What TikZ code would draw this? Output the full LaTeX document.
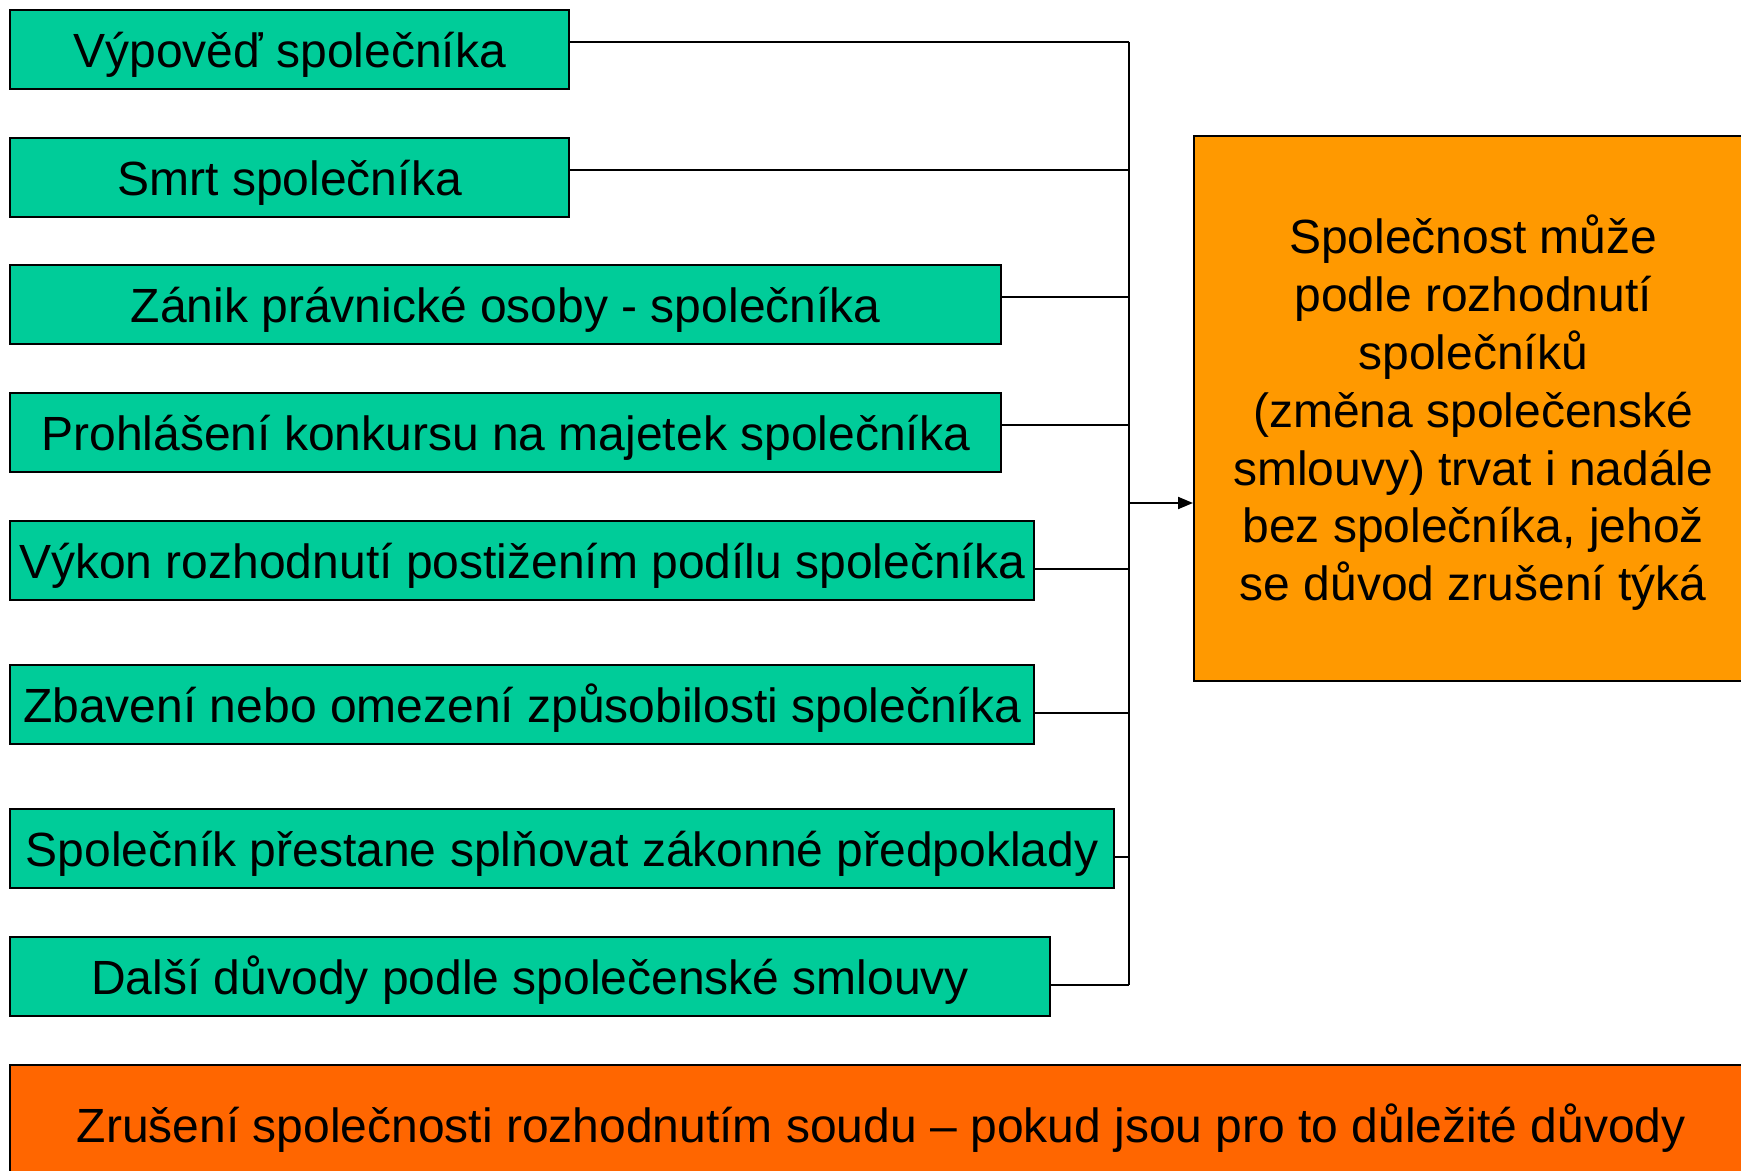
\documentclass[tikz,border=0pt]{standalone}
\usepackage{fontspec}
\setmainfont{Liberation Sans}
\usetikzlibrary{arrows.meta, positioning, calc}
\definecolor{reasongreen}{HTML}{00CC99}
\definecolor{keeporange}{HTML}{FF9900}
\definecolor{courtorange}{HTML}{FF6600}
\tikzset{
  reason/.style={draw, line width=1.2pt, fill=reasongreen, anchor=north west, minimum height=39.5pt, inner sep=0pt, text height=21.5pt, text depth=4pt, font=\fontsize{24}{29}\selectfont},
  outcome/.style={draw, line width=1.2pt, anchor=north west, inner sep=0pt, align=center, font=\fontsize{24}{28.9}\selectfont},
  wire/.style={line width=1pt}
}

\begin{document}
\begin{tikzpicture}[x=0.5pt, y=-0.5pt]
\useasboundingbox (0,0) rectangle (1741,1171);
\pgfmathsetmacro{\xbus}{1129}
\coordinate (bus) at (\xbus,0);

% Reasons
\node[reason, minimum width=279.5pt] (r1) at (9,9) {Výpověď společníka};
\node[reason, minimum width=279.5pt] (r2) at (9,137) {Smrt společníka};
\node[reason, minimum width=495.5pt] (r3) at (9,264) {Zánik právnické osoby - společníka};
\node[reason, minimum width=495.5pt] (r4) at (9,392) {Prohlášení konkursu na majetek společníka};
\node[reason, minimum width=512pt] (r5) at (9,520) {Výkon rozhodnutí postižením podílu společníka};
\node[reason, minimum width=512pt] (r6) at (9,664) {Zbavení nebo omezení způsobilosti společníka};
\node[reason, minimum width=552pt] (r7) at (9,808) {Společník přestane splňovat zákonné předpoklady};
\node[reason, minimum width=520pt] (r8) at (9,936) {Další důvody podle společenské smlouvy};

% Outcomes
\node[outcome, fill=keeporange, minimum width=279pt, minimum height=272.5pt] (keep) at (1193,135)
  {\raisebox{-3.5pt}[\height][\depth]{\begin{tabular}{@{}c@{}}Společnost může\\ podle rozhodnutí\\ společníků\\ (změna společenské\\ smlouvy) trvat i nadále\\ bez společníka, jehož\\ se důvod zrušení týká\end{tabular}}};
\node[outcome, fill=courtorange, minimum width=871pt, minimum height=60pt, text height=21.5pt, text depth=4pt] (court) at (9,1064)
  {Zrušení společnosti rozhodnutím soudu – pokud jsou pro to důležité důvody};

% Connectors to the bus
\draw[wire] ([yshift=4pt]r1.east) -- ([yshift=4pt]r1.east -| bus) coordinate (bustop);
\draw[wire] ([yshift=4pt]r2.east) -- ([yshift=4pt]r2.east -| bus);
\draw[wire] ([yshift=4pt]r3.east) -- ([yshift=4pt]r3.east -| bus);
\draw[wire] ([yshift=4pt]r4.east) -- ([yshift=4pt]r4.east -| bus);
\draw[wire] ([yshift=-4pt]r5.east) -- ([yshift=-4pt]r5.east -| bus);
\draw[wire] ([yshift=-4pt]r6.east) -- ([yshift=-4pt]r6.east -| bus);
\draw[wire] ([yshift=-4pt]r7.east) -- ([yshift=-4pt]r7.east -| bus);
\draw[wire] ([yshift=-4pt]r8.east) -- ([yshift=-4pt]r8.east -| bus) coordinate (busbot);
\draw[wire] (bustop) -- (busbot); % Bus
\coordinate (join) at (\xbus,503);
\draw[wire, -{Triangle[length=7.5pt, width=6pt]}] (join) -- (join -| keep.west);
\end{tikzpicture}
\end{document}
